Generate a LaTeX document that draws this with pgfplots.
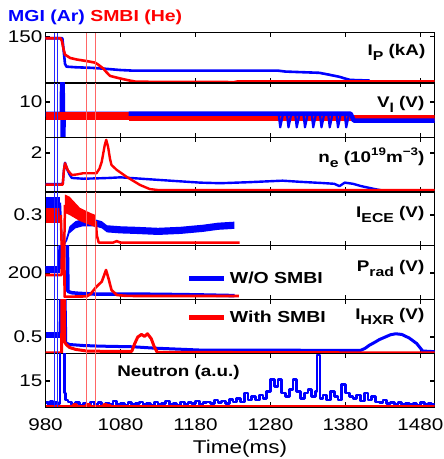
\documentclass[border=0pt]{standalone}
\usepackage{pgfplots}
\pgfplotsset{compat=1.18}
\usepackage{fontspec}
\setmainfont{Liberation Sans}[FakeStretch=1.22]
\newcommand{\sub}[1]{\raisebox{-5bp}{\fontsize{13}{13}\selectfont #1}}
\newcommand{\sups}[1]{\raisebox{6.5bp}{\fontsize{11}{11}\selectfont #1}}
\newcommand{\lf}{\fontsize{15.5}{16}\selectfont\bfseries}
\tikzset{lab/.style={anchor=north east, inner sep=0pt, font=\lf}}
\pgfplotsset{
  panel/.style={
    scale only axis, width=389bp,
    xmin=980, xmax=1498.7, ymin=0,
    xtick={980,1080,1180,1280,1380,1480},
    xticklabels={},
    tick align=inside, tick pos=both,
    major tick length=4.5bp,
    every tick/.style={black, line width=1.2bp},
    axis line style={black, line width=1.3bp},
    ticklabel style={font=\fontsize{17}{17}\selectfont},
    yticklabel style={inner sep=3bp},
    /pgf/number format/assume math mode=true,
    /pgf/number format/1000 sep={},
    anchor=south west,
    every axis plot/.append style={line join=round},
  },
}
\newcommand{\vl}[1]{%
 \addplot[blue!85, line width=0.9bp, forget plot] coordinates {(992,0)(992,#1)};
 \addplot[blue!85, line width=0.9bp, forget plot] coordinates {(996,0)(996,#1)};
 \addplot[red!60, line width=0.9bp, forget plot] coordinates {(1034,0)(1034,#1)};
 \addplot[red!60, line width=0.9bp, forget plot] coordinates {(1047,0)(1047,#1)};
}
\begin{document}
\begin{tikzpicture}
\useasboundingbox (0,0) rectangle (444bp,459bp);
\node[anchor=base west, inner sep=0pt, font=\fontsize{16}{16}\selectfont\bfseries] at (8bp,437.3bp) {\textcolor{blue}{MGI (Ar)} \textcolor{red}{SMBI (He)}};

% Panel 1: Ip
\begin{axis}[panel, at={(45.5bp,376bp)}, height=50.3bp, ymax=163, ytick={150}]
\addplot[blue, line width=2.6bp] coordinates {(980,145)(1002.5,145)(1004,110)(1006,62)(1008,53)(1020,51)(1042,49)(1060,46)(1080,42)(1097,40)(1290,40)(1300,37)(1345,33)(1358,27)(1372,20)(1380,14)(1386,10)(1412,8)};
\addplot[red, line width=2.6bp] coordinates {(980,145)(1000,145)(1002,135)(1004,110)(1006,92)(1013,81)(1022,76)(1035,71)(1046,66)(1050,60)(1057,47)(1062,33)(1066,23)(1079,15)(1090,9)(1101,4)(1232,3)(1236,5)(1498.7,5)};
\vl{163}
\node[lab] at ([xshift=-9bp,yshift=-11bp]rel axis cs:1,1) {I\sub{P} (kA)};
\end{axis}

% Panel 2: Vl
\begin{axis}[panel, at={(45.5bp,321.3bp)}, height=54.7bp, ymax=15.3, ytick={10}]
\addplot[blue, line width=5bp] coordinates {(980,6.6)(1002,6.6)(1002.5,16)(1003.3,-1)(1004,6.6)(1091,6.6)};
\addplot[red, line width=8bp] coordinates {(980,6.1)(1091,6.1)};
\addplot[red, line width=6bp] coordinates {(1091,5.4)(1498.7,5.4)};
\addplot[blue, line width=4.5bp] coordinates {(1091,6.7)(1387,6.7)(1391,4.8)(1498.7,4.8)};
\addplot[blue, line width=2.2bp] coordinates {(1289,6.6)
(1291,6.4)(1293,2.9)(1296.5,6.4)(1302,6.4)(1304,2.9)(1307.5,6.4)(1313,6.4)(1315,2.9)(1318.5,6.4)
(1324,6.4)(1326,2.9)(1329.5,6.4)(1335,6.4)(1337,2.9)(1340.5,6.4)(1346,6.4)(1348,2.9)(1351.5,6.4)
(1357,6.4)(1359,2.9)(1362.5,6.4)(1368,6.4)(1370,2.9)(1373.5,6.4)(1379,6.4)(1381,2.9)(1384.5,6.4)};
\vl{15.3}
\node[lab] at ([xshift=-10bp,yshift=-13bp]rel axis cs:1,1) {V\sub{l} (V)};
\end{axis}

% Panel 3: ne
\begin{axis}[panel, at={(45.5bp,267bp)}, height=54.3bp, ymax=2.78, ytick={2}]
\addplot[blue, line width=2.4bp] coordinates {(980,0.40)(1003,0.40)(1004.5,1.1)(1006,1.5)(1009,1.15)(1012,0.9)(1015,0.72)(1030,0.68)(1050,0.7)(1065,0.72)(1080,0.75)(1100,0.7)(1119,0.65)(1150,0.57)(1186,0.48)(1213,0.45)(1250,0.5)(1296,0.58)(1320,0.52)(1349,0.46)(1365,0.42)(1372,0.3)(1379,0.48)(1390,0.42)(1401,0.3)(1419,0.15)(1429,0.08)};
\addplot[red, line width=2.4bp] coordinates {(980,0.38)(1003,0.38)(1004.5,1.1)(1006,1.47)(1010,1.1)(1015,0.87)(1022,0.9)(1030,0.96)(1048,0.96)(1052,1.2)(1055,1.55)(1059,2.4)(1061,2.67)(1063.5,2.3)(1066,1.7)(1068,1.38)(1075,1.13)(1088,0.78)(1106,0.36)(1119,0.15)(1130,0.1)(1498.7,0.1)};
\vl{2.78}
\node[lab] at ([xshift=-10bp,yshift=-10bp]rel axis cs:1,1) {n\sub{e} (10\sups{19}m\sups{−3})};
\end{axis}

% Panel 4: IECE
\begin{axis}[panel, at={(45.5bp,213.3bp)}, height=53.7bp, ymax=0.525, ytick={0.3}]
\addplot[red, fill=red, draw=none] coordinates {(980,0.42)(1000.5,0.42)(1000.5,0.22)(980,0.22)};
\addplot[blue, fill=blue, draw=none] coordinates {(980,0.48)(999.5,0.48)(999.5,0.37)(980,0.37)};
\addplot[blue, line width=2bp] coordinates {(999.5,0.42)(1002,0.0)(1005,0.0)};
\addplot[blue, fill=blue, draw=none] coordinates {(1005,0.01)(1009,0.11)(1012,0.19)(1020,0.24)(1030,0.26)(1045,0.26)(1055,0.24)(1062,0.2)(1080,0.19)(1100,0.185)(1130,0.175)(1160,0.185)(1190,0.205)(1210,0.225)(1232,0.235)
(1232,0.165)(1210,0.155)(1190,0.135)(1160,0.115)(1130,0.105)(1100,0.115)(1080,0.12)(1062,0.13)(1055,0.17)(1045,0.19)(1030,0.19)(1020,0.17)(1012,0.12)(1009,0.05)(1005,0.0)};
\addplot[red, line width=2.5bp] coordinates {(1000.5,0.3)(1001.5,0.0)(1005,0.0)(1006,0.4)};
\addplot[red, fill=red, draw=none] coordinates {(1006,0.50)(1012,0.48)(1026,0.37)(1040,0.32)(1047,0.30)(1047,0.18)(1040,0.2)(1026,0.24)(1012,0.3)(1006,0.32)};
\addplot[red, line width=2.5bp] coordinates {(1047,0.24)(1048.5,0.1)(1051,0.03)(1070,0.03)(1075,0.045)(1080,0.03)(1239,0.03)};
\vl{0.525}
\node[lab] at ([xshift=-10bp,yshift=-14bp]rel axis cs:1,1) {I\sub{ECE} (V)};
\end{axis}

% Panel 5: Prad
\begin{axis}[panel, at={(45.5bp,159.7bp)}, height=53.6bp, ymax=408, ytick={200},
  legend style={at={(0.363,0.39)}, anchor=west, draw=none, fill=none, inner sep=0pt, column sep=3bp,
    font=\fontsize{16}{16}\selectfont\bfseries, nodes={inner sep=0pt}},
  legend image code/.code={\draw[#1, line width=5bp] (0bp,0bp) -- (35bp,0bp);}]
\addplot[blue, line width=7bp, forget plot] coordinates {(980,230)(999,230)};
\addplot[blue, line width=3.5bp] coordinates {(999,230)(999.5,450)(1009,450)(1010,60)(1015,50)(1025,45)(1046,40)(1080,40)(1130,38)(1180,34)(1232,28)};
\addlegendentry{W/O SMBI}
\addplot[red, line width=2.6bp, forget plot] coordinates {(980,185)(1001.5,185)(1002,450)(1005,450)(1005.5,20)(1035,22)(1040,40)(1048,96)(1055,134)(1058,180)(1060.7,223)(1064,159)(1068,71)(1075,33)(1085,27)(1100,25)(1238,25)};
\vl{408}
\node[lab] at ([xshift=-10bp,yshift=-14bp]rel axis cs:1,1) {P\sub{rad} (V)};
\end{axis}

% Panel 6: IHXR
\begin{axis}[panel, at={(45.5bp,105.7bp)}, height=54bp, ymax=1.66, ytick={0.5},
  legend style={at={(0.363,0.672)}, anchor=west, draw=none, fill=none, inner sep=0pt, column sep=3bp,
    font=\fontsize{16}{16}\selectfont\bfseries, nodes={inner sep=0pt}},
  legend image code/.code={\draw[#1, line width=5bp] (0bp,0bp) -- (35bp,0bp);}]
\addplot[blue, line width=5.5bp, forget plot] coordinates {(980,0.56)(999.5,0.56)};
\addplot[blue, line width=3bp, forget plot] coordinates {(999.5,0.56)(1000,1.8)(1006,1.8)(1007,0.32)(1012,0.27)(1030,0.24)(1053,0.22)(1097,0.2)(1124,0.16)(1186,0.1)(1400,0.09)(1406,0.15)(1412,0.25)(1420,0.35)(1425,0.42)(1433,0.5)(1440,0.57)(1447,0.6)(1455,0.58)(1465,0.47)(1475,0.3)(1483,0.07)(1498.7,0.05)};
\addplot[red, line width=3bp] coordinates {(980,0.01)(1001.5,0.01)(1002,1.8)(1005,1.8)(1005.5,0.35)(1008,0.26)(1012,0.18)(1020,0.12)(1035,0.07)(1060,0.06)(1095,0.06)(1099,0.3)(1103,0.5)(1108,0.58)(1112,0.52)(1116,0.6)(1121,0.45)(1125,0.2)(1129,0.03)(1498.7,0.01)};
\addlegendentry{With SMBI}
\vl{1.66}
\node[lab] at ([xshift=-10bp,yshift=-9bp]rel axis cs:1,1) {I\sub{HXR} (V)};
\end{axis}

% Panel 7: Neutron
\begin{axis}[panel, at={(45.5bp,52bp)}, height=53.7bp, ymax=31, ytick={15},
  xticklabels={980,1080,1180,1280,1380,1480},
  xticklabel style={anchor=base, yshift=-23bp},
  xlabel={Time(ms)},
  every axis x label/.style={at={(rel axis cs:0.5,0)}, anchor=base, yshift=-46bp, font=\fontsize{18.5}{18.5}\selectfont}]
\addplot[blue, line width=2.6bp, const plot] coordinates {(980,2.5)(984,1)(987,3.5)(990,1.5)(993,3)(996,2)(999.5,32)(1005.5,8)(1007,4)
(1010,3)(1015,1.5)(1020,2.5)(1025,1.2)(1030,2)(1035,1.5)(1040,3)(1045,1.5)(1050,2.5)(1055,1)(1060,2)(1065,1.5)(1070,3.5)(1075,1.5)(1080,2)(1085,1.2)(1090,2.5)(1095,1.5)(1100,2)(1105,3)(1110,1.5)(1115,2)(1120,1.2)(1125,2.8)(1130,1.5)(1135,2)(1140,3.5)(1145,1.5)(1150,2)(1155,1.2)(1160,3)(1165,1.5)(1170,2.5)(1175,2)(1180,3.5)(1185,1.5)(1190,2.5)(1195,3)(1200,2)(1205,4)(1210,2.5)(1215,3.5)(1220,2)(1225,4.5)(1230,3)(1235,5)(1240,3)(1245,8)(1250,4)(1255,6)(1260,4)(1265,7)(1270,5)(1275,9)(1280,16)(1285,12)(1290,16)(1295,8)(1300,6)(1305,10)(1310,16)(1315,9)(1320,5)(1325,8)(1330,10)(1335,6)(1340,9)(1342,30)(1346,5)(1350,7)(1355,4)(1360,9)(1365,6)(1370,4)(1375,13)(1380,8)(1385,6)(1390,5)(1395,7)(1400,3.5)(1405,8)(1410,4)(1415,6)(1420,3)(1425,2.5)(1430,4)(1435,2)(1440,2.5)(1445,1.5)(1450,2.5)(1455,1.5)(1460,2)(1465,1.5)(1470,2)(1475,1.2)(1480,2.5)(1485,1.5)(1490,2)(1495,1.5)(1498.7,1.5)};
\addplot[red, line width=3.5bp, const plot] coordinates {(980,0.3)(1017,0.3)(1018,1.3)(1021,0.3)(1034,0.3)(1035,1.5)(1038,0.3)(1057,0.3)(1058,1.2)(1061,0.3)(1065,1)(1067,0.3)(1498.7,0.3)};
\vl{31}
\node[anchor=north west, inner sep=0pt, font=\lf] at ([yshift=-12bp]rel axis cs:0.184,1) {Neutron (a.u.)};
\end{axis}
\end{tikzpicture}
\end{document}
